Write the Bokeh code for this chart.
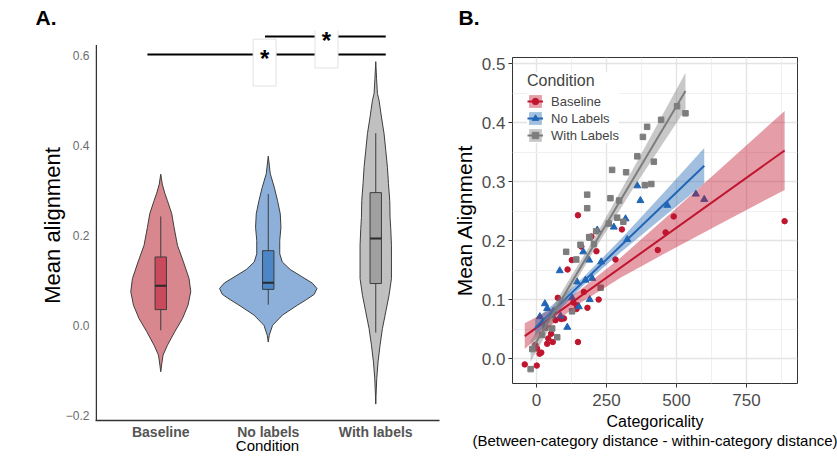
from bokeh.plotting import figure
from bokeh.models import FixedTicker, Range1d, Legend, LegendItem, NumeralTickFormatter, Title
from bokeh.layouts import row, column
from bokeh.embed import file_html
from bokeh.resources import INLINE
from bokeh.core.properties import value

FONT = "Liberation Sans"

# ---------------- Panel A data ----------------
conditions = ["Baseline", "No labels", "With labels"]
cond_pos = [1, 2, 3]

# violin profiles: y level and density (relative width)
baseline_dens_y = [0.337, 0.315, 0.295, 0.278, 0.249, 0.219, 0.179, 0.142, 0.105, 0.076,
                   0.046, 0.016, -0.013, -0.043, -0.065, -0.085, -0.102]
baseline_dens_w = [0, 1.5, 4, 6.7, 11, 13.3, 16.7, 22.7, 28.3, 30,
                   27.3, 21.7, 14, 6.7, 2.3, 1, 0]
nolabels_dens_y = [0.377, 0.338, 0.308, 0.278, 0.249, 0.219, 0.190, 0.160, 0.142, 0.125,
                   0.110, 0.095, 0.083, 0.070, 0.058, 0.046, 0.024, 0.001, -0.021, -0.036]
nolabels_dens_w = [0, 2, 6, 9.3, 12, 12.7, 11.5, 11.5, 14, 22,
                   33, 44, 48.7, 46, 38, 29.3, 14.3, 4.3, 1, 0]
withlabels_dens_y = [0.587, 0.55, 0.516, 0.501, 0.464, 0.427, 0.39, 0.352, 0.316, 0.278,
                     0.241, 0.216, 0.179, 0.142, 0.105, 0.068, 0.031, -0.006, -0.043, -0.08,
                     -0.117, -0.154, -0.174]
withlabels_dens_w = [0, 0.8, 1.7, 3.3, 5.7, 8.3, 10, 11.7, 12.7, 14,
                     14.3, 15, 15.7, 15.7, 15.7, 13.3, 10, 6.7, 4.3, 2.3,
                     1, 0.3, 0]

box_q1 = [0.036, 0.081, 0.094]
box_median = [0.089, 0.096, 0.194]
box_q3 = [0.153, 0.167, 0.296]
whisker_low = [-0.010, 0.047, -0.015]
whisker_high = [0.243, 0.293, 0.428]

y_ticks_A = [-0.2, 0.0, 0.2, 0.4, 0.6]
y_labels_A = ["\u22120.2", "0.0", "0.2", "0.4", "0.6"]

# significance brackets
sig_x0 = [0.876, 1.970]
sig_x1 = [3.093, 3.093]
sig_y = [0.603, 0.643]
sig_star_x = [1.966, 2.542]
sig_text = ["*", "*"]

violin_fill = ["#d9878f", "#8cb0d9", "#c0c0c0"]
box_fill = ["#c94a5d", "#4b86c7", "#a0a0a0"]
EDGE = "#3d3d3d"
VIOLIN_SCALE = 1 / 107.5
BOX_HALF = 0.053

# ---------------- Panel B data ----------------
baseline_x = [-42, 1, -4, 2, 11, 17, 38, 42, 52, 58, 68, 76, 88, 98, 111, 126, 132, 143, 145, 148,
              148, 160, 169, 182, 196, 214, 222, 282, 305, 433, 461, 490, 886]
baseline_y = [-0.010, -0.012, 0.023, 0.017, 0.008, 0.010, 0.025, 0.034, 0.042, 0.028, 0.065, 0.103,
              0.067, 0.068, 0.151, 0.167, 0.095, 0.084, 0.090, 0.028, 0.243, 0.190, 0.113, 0.086,
              0.207, 0.182, 0.100, 0.168, 0.219, 0.184, 0.214, 0.241, 0.233]
nolabels_x = [12, 30, 38, 56, 83, 86, 110, 127, 145, 151, 167, 175, 188, 190, 199, 217, 231, 276,
              318, 324, 360, 371, 467, 569, 599, 20, 60]
nolabels_y = [0.071, 0.093, 0.085, 0.073, 0.149, 0.072, 0.053, 0.103, 0.130, 0.088, 0.181, 0.133,
              0.167, 0.100, 0.136, 0.218, 0.164, 0.223, 0.237, 0.202, 0.293, 0.268, 0.260, 0.279,
              0.270, 0.060, 0.080]
withlabels_x = [-21, -15, 20, 32, 56, 74, 106, 127, 142, 157, 181, 181, 188, 190, 205, 213, 229,
                258, 264, 270, 288, 295, 310, 320, 360, 380, 387, 395, 410, 419, 445, 502, 532]
withlabels_y = [-0.018, 0.016, 0.040, 0.052, 0.051, 0.036, 0.181, 0.080, 0.168, 0.193, 0.278,
                0.255, 0.206, 0.205, 0.194, 0.216, 0.120, 0.229, 0.272, 0.320, 0.239, 0.268,
                0.232, 0.316, 0.343, 0.376, 0.294, 0.393, 0.296, 0.334, 0.405, 0.428, 0.416]

baseline_fit_x = [-42, 886]
baseline_fit_y = [0.038, 0.353]
baseline_band_x = [-42, 50, 150, 300, 461, 650, 886]
baseline_band_lo = [0.016, 0.055, 0.092, 0.137, 0.179, 0.227, 0.286]
baseline_band_hi = [0.060, 0.083, 0.114, 0.171, 0.239, 0.319, 0.420]

nolabels_fit_x = [-5, 599]
nolabels_fit_y = [0.052, 0.327]
nolabels_band_x = [-5, 80, 170, 300, 450, 599]
nolabels_band_lo = [0.038, 0.081, 0.125, 0.180, 0.239, 0.297]
nolabels_band_hi = [0.066, 0.100, 0.139, 0.202, 0.279, 0.357]

withlabels_fit_x = [-21, 532]
withlabels_fit_y = [0.012, 0.454]
withlabels_band_x = [-21, 80, 200, 350, 532]
withlabels_band_lo = [-0.006, 0.081, 0.179, 0.292, 0.423]
withlabels_band_hi = [0.030, 0.105, 0.199, 0.326, 0.485]

series_names = ["Baseline", "No Labels", "With Labels"]
series_colors = ["#c0152f", "#2166b5", "#7d7d7d"]
series_markers = ["circle", "triangle", "square"]
series_sizes = [5.5, 7, 5.5]

x_ticks_B = [0, 250, 500, 750]
x_minor_B = [125, 375, 625, 875]
y_ticks_B = [0.0, 0.1, 0.2, 0.3, 0.4, 0.5]
y_minor_B = [0.05, 0.15, 0.25, 0.35, 0.45]

# ======================= Panel A =======================
pA = figure(width=448, height=456, x_range=Range1d(0.393, 3.593), y_range=Range1d(-0.2104, 0.6563),
            output_backend="svg", toolbar_location=None,
            min_border_left=95, min_border_right=9, min_border_top=30, min_border_bottom=36)
pA.grid.visible = False
pA.outline_line_color = None
pA.background_fill_color = "white"
pA.border_fill_color = "white"

dens = [(baseline_dens_y, baseline_dens_w), (nolabels_dens_y, nolabels_dens_w),
        (withlabels_dens_y, withlabels_dens_w)]
for i, (dy, dw) in enumerate(dens):
    c = cond_pos[i]
    xs = [c + w * VIOLIN_SCALE for w in dw] + [c - w * VIOLIN_SCALE for w in reversed(dw)]
    ys = list(dy) + list(reversed(dy))
    pA.patch(xs, ys, fill_color=violin_fill[i], line_color=EDGE, line_width=1)

pA.segment(x0=cond_pos, y0=whisker_low, x1=cond_pos, y1=whisker_high, line_color=EDGE, line_width=1)
pA.quad(left=[c - BOX_HALF for c in cond_pos], right=[c + BOX_HALF for c in cond_pos],
        bottom=box_q1, top=box_q3, fill_color=box_fill, line_color=EDGE, line_width=1)
pA.segment(x0=[c - BOX_HALF for c in cond_pos], x1=[c + BOX_HALF for c in cond_pos],
           y0=box_median, y1=box_median, line_color="#2a2a2a", line_width=2)

# y axis line (ends at the top of the panel)
pA.segment(x0=[0.4], x1=[0.4], y0=[-0.2104], y1=[0.624], line_color="#333333", line_width=1.5)

# significance brackets
pA.segment(x0=sig_x0, x1=sig_x1, y0=sig_y, y1=sig_y, line_color="black", line_width=2)
pA.quad(left=[x - 0.107 for x in sig_star_x], right=[x + 0.107 for x in sig_star_x],
        bottom=[y - 0.07 for y in sig_y], top=[y + 0.034 for y in sig_y],
        fill_color="white", line_color="#e2e2e2", line_width=1)
pA.text(x=sig_star_x, y=[y - 0.009 for y in sig_y], text=sig_text, text_align="center",
        text_baseline="middle", text_font=value(FONT), text_font_size="24px",
        text_font_style="bold", text_color="black")

pA.yaxis.ticker = FixedTicker(ticks=y_ticks_A)
pA.yaxis.major_label_overrides = dict(zip(y_ticks_A, y_labels_A))
pA.yaxis.axis_line_color = None
pA.yaxis.major_tick_line_color = None
pA.yaxis.minor_tick_line_color = None
pA.yaxis.major_tick_out = 0
pA.yaxis.major_tick_in = 0
pA.yaxis.major_label_text_font = FONT
pA.yaxis.major_label_text_font_size = "12px"
pA.yaxis.major_label_text_color = "#6b6b6b"
pA.yaxis.major_label_standoff = 6
pA.yaxis.axis_label = "Mean alignment"
pA.yaxis.axis_label_text_font = FONT
pA.yaxis.axis_label_text_font_size = "22px"
pA.yaxis.axis_label_text_font_style = "normal"
pA.yaxis.axis_label_text_color = "black"
pA.yaxis.axis_label_standoff = -2

pA.xaxis.ticker = FixedTicker(ticks=cond_pos)
pA.xaxis.major_label_overrides = dict(zip(cond_pos, conditions))
pA.xaxis.axis_line_color = "#333333"
pA.xaxis.axis_line_width = 1.5
pA.xaxis.major_tick_line_color = None
pA.xaxis.minor_tick_line_color = None
pA.xaxis.major_tick_out = 0
pA.xaxis.major_tick_in = 0
pA.xaxis.major_label_text_font = FONT
pA.xaxis.major_label_text_font_size = "14px"
pA.xaxis.major_label_text_font_style = "bold"
pA.xaxis.major_label_text_color = "#555555"
pA.xaxis.major_label_standoff = 3
pA.xaxis.axis_label = "Condition"
pA.xaxis.axis_label_text_font = FONT
pA.xaxis.axis_label_text_font_size = "15px"
pA.xaxis.axis_label_text_font_style = "normal"
pA.xaxis.axis_label_text_color = "black"
pA.xaxis.axis_label_standoff = -6

pA.add_layout(Title(text="A.", align="left", offset=-60, standoff=4, text_font=FONT,
                    text_font_size="21px", text_font_style="bold", text_color="black"), "above")

# ======================= Panel B =======================
pB = figure(width=389, height=456, x_range=Range1d(-85.7, 932), y_range=Range1d(-0.0424, 0.5107),
            output_backend="svg", toolbar_location=None,
            min_border_left=64, min_border_right=40, min_border_top=57, min_border_bottom=73)
pB.background_fill_color = "white"
pB.border_fill_color = "white"
pB.outline_line_color = "#333333"
pB.outline_line_width = 1

pB.xaxis.ticker = FixedTicker(ticks=x_ticks_B, minor_ticks=x_minor_B)
pB.yaxis.ticker = FixedTicker(ticks=y_ticks_B, minor_ticks=y_minor_B)
pB.yaxis.formatter = NumeralTickFormatter(format="0.0")
for g in (pB.xgrid, pB.ygrid):
    g.grid_line_color = "#e4e4e4"
    g.grid_line_width = 1.4
    g.minor_grid_line_color = "#f0f0f0"
    g.minor_grid_line_width = 1
for ax in (pB.xaxis, pB.yaxis):
    ax.axis_line_color = None
    ax.major_tick_line_color = "#333333"
    ax.major_tick_out = 4
    ax.major_tick_in = 0
    ax.minor_tick_line_color = None
    ax.major_label_text_font = FONT
    ax.major_label_text_font_size = "17px"
    ax.major_label_text_color = "#4d4d4d"
    ax.axis_label_text_font = FONT
    ax.axis_label_text_font_style = "normal"
    ax.axis_label_text_color = "black"
pB.yaxis.major_label_standoff = 3
pB.xaxis.major_label_standoff = 6
pB.yaxis.axis_label = "Mean Alignment"
pB.yaxis.axis_label_text_font_size = "21px"
pB.yaxis.axis_label_standoff = 3
pB.xaxis.axis_label = "Categoricality"
pB.xaxis.axis_label_text_font_size = "16px"
pB.xaxis.axis_label_standoff = 4

pts = [(baseline_x, baseline_y), (nolabels_x, nolabels_y), (withlabels_x, withlabels_y)]
fits = [(baseline_fit_x, baseline_fit_y), (nolabels_fit_x, nolabels_fit_y),
        (withlabels_fit_x, withlabels_fit_y)]
bands = [(baseline_band_x, baseline_band_lo, baseline_band_hi),
         (nolabels_band_x, nolabels_band_lo, nolabels_band_hi),
         (withlabels_band_x, withlabels_band_lo, withlabels_band_hi)]

pt_r = []
for i, (xs, ys) in enumerate(pts):
    pt_r.append(pB.scatter(xs, ys, marker=series_markers[i], size=series_sizes[i],
                           fill_color=series_colors[i], line_color=series_colors[i]))
items = []
for i in range(3):
    bx, blo, bhi = bands[i]
    br = pB.varea(x=bx, y1=blo, y2=bhi, fill_color=series_colors[i], fill_alpha=0.42)
    fx, fy = fits[i]
    lr = pB.line(fx, fy, line_color=series_colors[i], line_width=2)
    items.append(LegendItem(label=series_names[i], renderers=[br, lr, pt_r[i]]))

legend = Legend(items=items, title="Condition", location="top_left", margin=15, padding=8,
                spacing=1, glyph_height=16, glyph_width=16, label_height=16, label_standoff=8,
                title_standoff=3, border_line_color=None, background_fill_color="white",
                background_fill_alpha=1, label_text_font=FONT, label_text_font_size="13px",
                title_text_font=FONT, title_text_font_size="16px", title_text_font_style="normal")
pB.add_layout(legend)

pB.add_layout(Title(text="(Between-category distance - within-category distance)", align="center",
                    offset=-4, standoff=-6, text_font=FONT, text_font_size="15px",
                    text_font_style="normal", text_color="black"), "below")
# spacer title keeps the panel letter near the top edge
pB.add_layout(Title(text=" ", standoff=0, text_font=FONT, text_font_size="24px"), "above")
pB.add_layout(Title(text="B.", align="left", offset=-54, standoff=0, text_font=FONT,
                    text_font_size="21px", text_font_style="bold", text_color="black"), "above")

layout = row(column(pA), column(pB))
open("out.html", "w").write(file_html(layout, INLINE))
